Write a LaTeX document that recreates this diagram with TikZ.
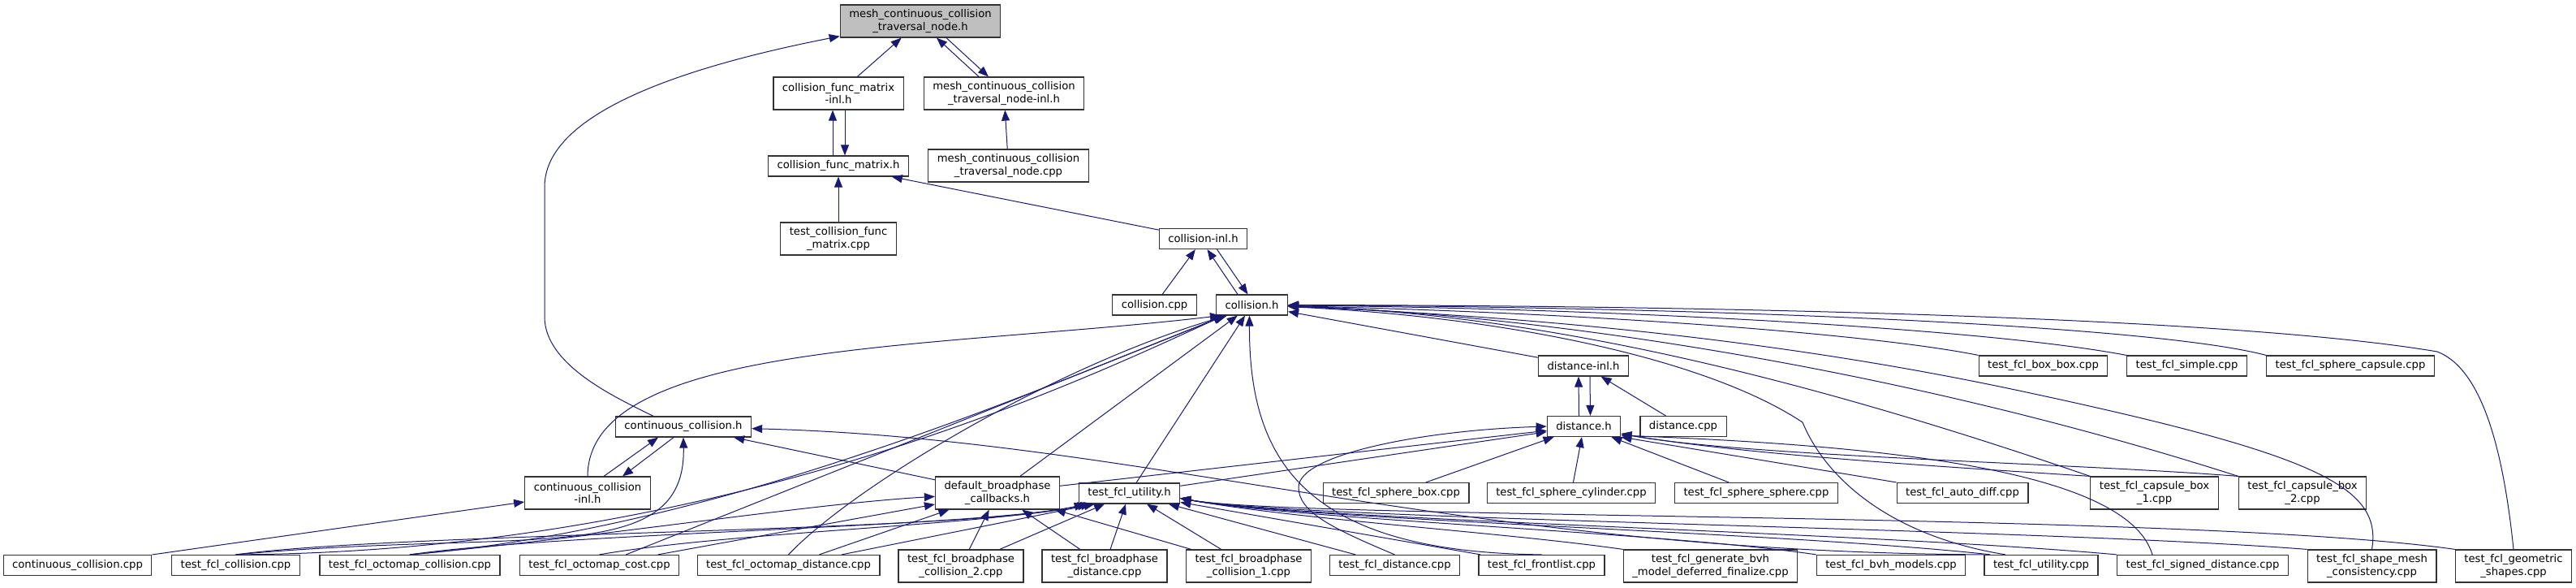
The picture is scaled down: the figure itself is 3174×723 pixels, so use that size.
\documentclass[tikz,border=0pt]{standalone}
\usepackage{fontspec}
\setmainfont{DejaVu Sans}
\usetikzlibrary{arrows.meta}
\definecolor{edgeblue}{rgb}{0.098, 0.098, 0.439}
\definecolor{nodegray}{rgb}{0.75, 0.75, 0.75}
\tikzset{box/.style = {draw = black!80, fill = white, line width = 0.6pt,
                       inner xsep = 5.5pt, inner ysep = 0pt, minimum height = 12.5pt,
                       align = center, font = \fontsize{6.6}{7.7}\selectfont}}
\tikzset{twoline/.style = {minimum height = 20pt}}
\tikzset{dep/.style = {draw = edgeblue, line width = 0.5pt,
                       -{Triangle[length = 6.5pt, width = 5pt]}}}
\begin{document}
\begin{tikzpicture}[x = 0.5pt, y = -0.5pt]
    \useasboundingbox (0, 0) rectangle (3174, 723);

    \node [box, twoline, fill = nodegray] (mcctn) at (1134, 26) {mesh\_continuous\_collision\\\_traversal\_node.h};
    \node [box, twoline] (cfmi) at (1033, 115) {collision\_func\_matrix\\-inl.h};
    \node [box, twoline] (mccti) at (1237, 115) {mesh\_continuous\_collision\\\_traversal\_node-inl.h};
    \node [box] (cfmh) at (1033, 204.5) {collision\_func\_matrix.h};
    \node [box, twoline] (mcctcpp) at (1242.5, 204) {mesh\_continuous\_collision\\\_traversal\_node.cpp};
    \node [box, twoline] (tcfm) at (1033, 294) {test\_collision\_func\\\_matrix.cpp};
    \node [box] (colli) at (1482.5, 294) {collision-inl.h};
    \node [box] (collcpp) at (1422.5, 375.5) {collision.cpp};
    \node [box] (collh) at (1542.5, 375.5) {collision.h};
    \node [box] (distinl) at (1951, 450.5) {distance-inl.h};
    \node [box] (boxbox) at (2517.5, 450.5) {test\_fcl\_box\_box.cpp};
    \node [box] (simple) at (2694.5, 450.5) {test\_fcl\_simple.cpp};
    \node [box] (spcaps) at (2896, 450.5) {test\_fcl\_sphere\_capsule.cpp};
    \node [box] (cch) at (842, 525.5) {continuous\_collision.h};
    \node [box] (disth) at (1951.5, 525) {distance.h};
    \node [box] (distcpp) at (2074, 525) {distance.cpp};
    \node [box, twoline] (cci) at (724, 607) {continuous\_collision\\-inl.h};
    \node [box, twoline] (dbc) at (1229, 607) {default\_broadphase\\\_callbacks.h};
    \node [box] (utilh) at (1391.5, 607.5) {test\_fcl\_utility.h};
    \node [box] (spbox) at (1720, 607) {test\_fcl\_sphere\_box.cpp};
    \node [box] (spcyl) at (1936, 607) {test\_fcl\_sphere\_cylinder.cpp};
    \node [box] (spsph) at (2164, 607) {test\_fcl\_sphere\_sphere.cpp};
    \node [box] (autodiff) at (2418, 607) {test\_fcl\_auto\_diff.cpp};
    \node [box, twoline] (capbox1) at (2654.5, 607) {test\_fcl\_capsule\_box\\\_1.cpp};
    \node [box, twoline] (capbox2) at (2837, 607) {test\_fcl\_capsule\_box\\\_2.cpp};
    \node [box] (cccpp) at (95.5, 696) {continuous\_collision.cpp};
    \node [box] (fclcoll) at (290.5, 696) {test\_fcl\_collision.cpp};
    \node [box] (octcoll) at (505, 696) {test\_fcl\_octomap\_collision.cpp};
    \node [box] (octcost) at (738.5, 696) {test\_fcl\_octomap\_cost.cpp};
    \node [box] (octdist) at (971.5, 696) {test\_fcl\_octomap\_distance.cpp};
    \node [box, twoline] (bpcoll2) at (1184, 697) {test\_fcl\_broadphase\\\_collision\_2.cpp};
    \node [box, twoline] (bpdist) at (1361, 697) {test\_fcl\_broadphase\\\_distance.cpp};
    \node [box, twoline] (bpcoll1) at (1538.5, 697) {test\_fcl\_broadphase\\\_collision\_1.cpp};
    \node [box] (fcldist) at (1718.5, 696) {test\_fcl\_distance.cpp};
    \node [box] (frontlist) at (1899.5, 696) {test\_fcl\_frontlist.cpp};
    \node [box, twoline] (genbvh) at (2107.5, 697) {test\_fcl\_generate\_bvh\\\_model\_deferred\_finalize.cpp};
    \node [box] (bvhmodels) at (2330, 696) {test\_fcl\_bvh\_models.cpp};
    \node [box] (utilcpp) at (2515, 696) {test\_fcl\_utility.cpp};
    \node [box] (signdist) at (2714, 696) {test\_fcl\_signed\_distance.cpp};
    \node [box, twoline] (shapemesh) at (2922.5, 697) {test\_fcl\_shape\_mesh\\\_consistency.cpp};
    \node [box, twoline] (geoshapes) at (3097, 697) {test\_fcl\_geometric\\\_shapes.cpp};

    \draw [dep] (cfmi) -- (mcctn);
    \draw [dep] ([xshift = -15.5pt]mccti.north) -- ([xshift = 10pt]mcctn.south);
    \draw [dep] ([xshift = 16pt]mcctn.south) -- ([xshift = -9.5pt]mccti.north);
    \draw [dep] ([xshift = -18.5pt]cch.north) .. controls (760, 490) and (671, 450) .. (671, 390)
        -- (671, 230) .. controls (671, 130) and (880, 75) .. ([yshift = 1pt]mcctn.south west);
    \draw [dep] ([xshift = -3.5pt]cfmh.north) -- ([xshift = -3.5pt]cfmi.south);
    \draw [dep] ([xshift = 4pt]cfmi.south) -- ([xshift = 4pt]cfmh.north);
    \draw [dep] (mcctcpp) -- (mccti);
    \draw [dep] (tcfm) -- (cfmh);
    \draw [dep] (colli) -- (cfmh);
    \draw [dep] (collcpp) -- (colli);
    \draw [dep] ([xshift = -8.75pt]collh.north) -- ([xshift = 2.5pt]colli.south);
    \draw [dep] ([xshift = 8.5pt]colli.south) -- ([xshift = -2.5pt]collh.north);

    \draw [dep] (cci.north) .. controls (725, 420) and (1150, 430) .. ([xshift = 3pt]collh.south west);
    \draw [dep] (fclcoll.north) .. controls (900, 680) and (1350, 460) .. ([xshift = 5pt]collh.south west);
    \draw [dep] (octcoll.north) .. controls (900, 650) and (1300, 470) .. ([xshift = 6pt]collh.south west);
    \draw [dep] (octcost) -- (collh);
    \draw [dep] (octdist.north) .. controls (1050, 600) and (1300, 450) .. ([xshift = 7pt]collh.south west);
    \draw [dep] (dbc) -- (collh);
    \draw [dep] (utilh) -- (collh);
    \draw [dep] (frontlist.north) .. controls (1600, 680) and (1539, 560) .. ([xshift = -1.5pt]collh.south);
    \draw [dep] (distinl) -- (collh);
    \draw [dep] (boxbox.north west) .. controls (2300, 410) and (1950, 385) .. (collh);
    \draw [dep] (simple.north west) .. controls (2450, 405) and (2000, 380) .. (collh);
    \draw [dep] (spcaps.north west) .. controls (2650, 400) and (2100, 378) .. (collh);
    \draw [dep] (geoshapes.north) .. controls (3085, 560) and (3060, 455) .. (3003, 433)
        .. controls (2750, 390) and (2100, 376) .. (collh);
    \draw [dep] (capbox1.north west) .. controls (2150, 440) and (1850, 385) .. (collh);
    \draw [dep] (capbox2.north west) .. controls (2300, 440) and (1850, 385) .. (collh);
    \draw [dep] (shapemesh.north) .. controls (2935, 600) and (2860, 560) .. (2483, 480)
        .. controls (2200, 420) and (1900, 390) .. (collh);
    \draw [dep] ([xshift = -22pt]utilcpp.north) .. controls (2330, 660) and (2250, 590) .. (2221, 520)
        .. controls (2100, 440) and (1850, 390) .. (collh);

    \draw [dep] ([xshift = -3pt]disth.north) -- ([xshift = -3pt]distinl.south);
    \draw [dep] ([xshift = 4pt]distinl.south) -- ([xshift = 4pt]disth.north);
    \draw [dep] (distcpp) -- (distinl);
    \draw [dep] (dbc) -- (disth);
    \draw [dep] (utilh) -- (disth);
    \draw [dep] (spbox) -- (disth);
    \draw [dep] (spcyl) -- (disth);
    \draw [dep] (spsph) -- (disth);
    \draw [dep] (autodiff.north west) -- (disth.south east);
    \draw [dep] (capbox1.north west) .. controls (2400, 575) and (2150, 560) .. ([yshift = 2pt]disth.south east);
    \draw [dep] (capbox2.north west) .. controls (2550, 570) and (2150, 562) .. ([yshift = 2pt]disth.south east);
    \draw [dep] ([xshift = -31pt]signdist.north) .. controls (2620, 575) and (2300, 548) .. ([yshift = 1pt]disth.south east);
    \draw [dep] (fcldist.north) .. controls (1640, 650) and (1600, 630) .. (1600, 600)
        .. controls (1600, 560) and (1750, 530) .. (disth.west);

    \draw [dep] ([xshift = 10pt]cci.north) -- ([xshift = -15.5pt]cch.south);
    \draw [dep] ([xshift = -6pt]cch.south) -- ([xshift = 21.5pt]cci.north);
    \draw [dep] (dbc) -- (cch);
    \draw [dep] (fclcoll.north) .. controls (650, 650) and (845, 700) .. (cch.south);
    \draw [dep] (utilcpp.north west) .. controls (1800, 680) and (1400, 540) .. (cch);
    \draw [dep] (cccpp) -- (cci);

    \draw [dep] (octcoll.north) .. controls (750, 660) and (1000, 620) .. (dbc);
    \draw [dep] (octcost) -- (dbc);
    \draw [dep] (octdist) -- (dbc);
    \draw [dep] (bpcoll2) -- (dbc);
    \draw [dep] (bpdist) -- (dbc);
    \draw [dep] (bpcoll1) -- (dbc);

    \draw [dep] (fclcoll.north) .. controls (500, 655) and (1200, 655) .. ([xshift = 4pt]utilh.south west);
    \draw [dep] (octcoll.north) .. controls (700, 655) and (1200, 650) .. ([xshift = 6pt]utilh.south west);
    \draw [dep] (octcost.north) .. controls (900, 655) and (1200, 648) .. ([xshift = 8pt]utilh.south west);
    \draw [dep] (octdist) -- ([xshift = 10pt]utilh.south west);
    \draw [dep] (bpcoll2) -- (utilh);
    \draw [dep] (bpdist) -- (utilh);
    \draw [dep] (bpcoll1) -- (utilh);
    \draw [dep] (fcldist) -- (utilh);
    \draw [dep] (frontlist) -- (utilh);
    \draw [dep] (genbvh.north west) .. controls (1850, 655) and (1600, 640) .. ([yshift = -3pt]utilh.east);
    \draw [dep] (bvhmodels.north west) .. controls (2050, 655) and (1600, 640) .. ([yshift = -3pt]utilh.east);
    \draw [dep] ([xshift = 4pt]utilcpp.north west) .. controls (2200, 655) and (1600, 640) .. ([yshift = -3pt]utilh.east);
    \draw [dep] (signdist.north west) .. controls (2300, 655) and (1600, 640) .. ([yshift = -3pt]utilh.east);
    \draw [dep] (shapemesh.north west) .. controls (2500, 650) and (1600, 640) .. ([yshift = -3pt]utilh.east);
    \draw [dep] (geoshapes.north west) .. controls (2700, 630) and (1600, 640) .. ([yshift = -3pt]utilh.east);
\end{tikzpicture}
\end{document}
